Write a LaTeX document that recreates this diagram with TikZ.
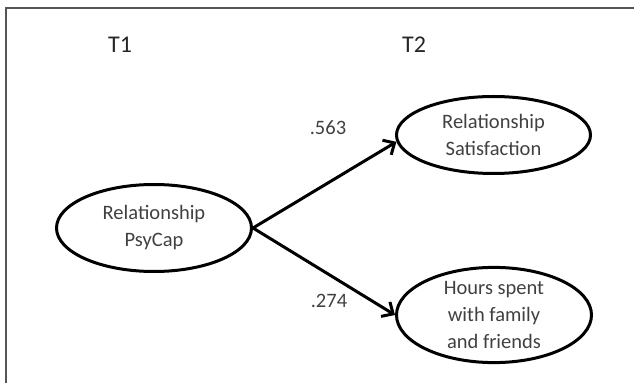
\documentclass[tikz,border=0pt]{standalone}
\usepackage{fontspec}
\setmainfont{Carlito}
\usetikzlibrary{arrows.meta,shapes.geometric}
\definecolor{txtgray}{HTML}{404040}
\definecolor{headgray}{HTML}{262626}
\definecolor{framegray}{HTML}{555555}
\begin{document}
\begin{tikzpicture}[x=1pt,y=1pt,
  ell/.style={draw=black,line width=3pt,ellipse,inner sep=0pt,align=center,
    text=txtgray,font=\fontsize{20.5}{27}\selectfont},
  lbl/.style={text=txtgray,font=\fontsize{20.5}{27}\selectfont,inner sep=0pt},
  head/.style={text=headgray,font=\fontsize{24}{28}\selectfont,inner sep=0pt},
  conn/.style={line width=3pt,-{Straight Barb[length=9pt,width=17pt,line width=3pt]}}]
\useasboundingbox (0,0) rectangle (634,383);
\coordinate (ftl) at (6,375);
\coordinate (ftr) at (634,375);
\coordinate (fbl) at (6,0);
\draw[framegray,line width=1.3pt] (ftr) -- (ftl) -- (fbl);
\node[head] (t1) at (120,338) {T1};
\node[head] (t2) at (414,338) {T2};
\node[ell,minimum width=195pt,minimum height=87pt] (psy) at (154,155) {Relationship\\PsyCap};
\node[ell,minimum width=194pt,minimum height=77pt] (sat) at (493.5,248) {Relationship\\Satisfaction};
\node[ell,minimum width=195pt,minimum height=83pt] (hrs) at (494,68) {Hours spent\\with family\\and friends};
\draw[conn] (psy.east) -- (sat.184);
\draw[conn] (psy.east) -- (hrs.west);
\node[lbl] (w1) at (328,255) {.563};
\node[lbl] (w2) at (329,82) {.274};
\end{tikzpicture}
\end{document}
